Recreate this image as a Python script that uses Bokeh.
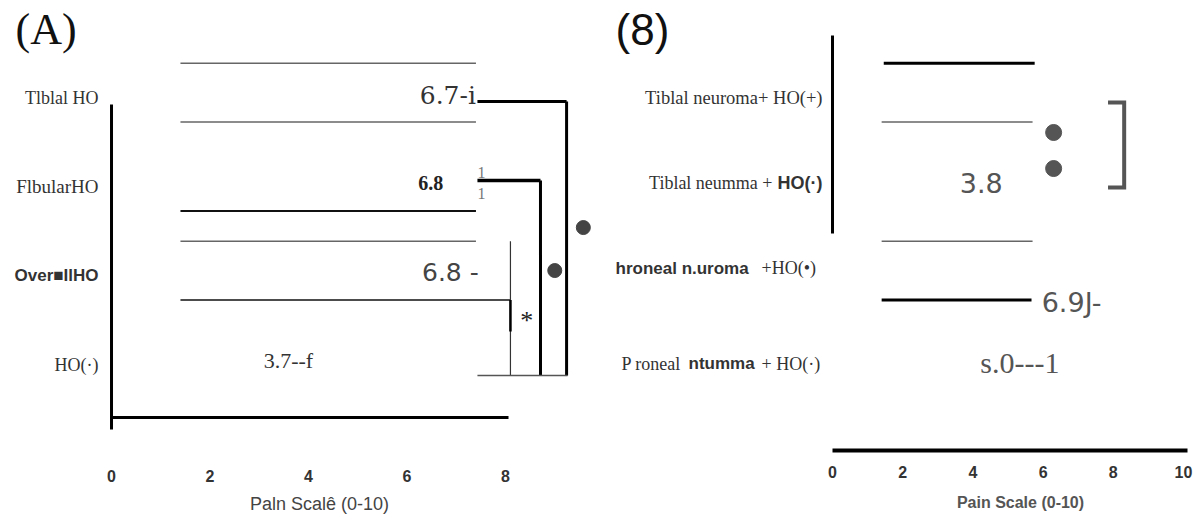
from bokeh.plotting import figure
from bokeh.models import ColumnDataSource, Range1d, FixedTicker
from bokeh.layouts import row
from bokeh.embed import file_html
from bokeh.resources import INLINE
from bokeh.core.properties import value, field

# ---------------- data ----------------
rows = [4, 3, 2, 1]                      # category rows, top to bottom

# panel (A)
a_categories = ["Tlblal HO", "FlbularHO", "Over\u25a0IlHO", "HO(\u00b7)"]
a_values = [6.7, 6.8, 6.8, 3.7]
a_value_text = ["6.7-i", "6.8", "6.8 -", "3.7--f"]
a_ticks = [0, 2, 4, 6, 8]
a_axis_title = "Paln Scal\u00ea (0-10)"
a_bar_start = 1.4
a_edge_cat = [0, 0, 1, 2, 2]            # which category each bar edge belongs to
a_edge_side = [1, -1, -1, 1, -1]         # top (+1) / bottom (-1) edge
a_edge_end = [7.4, 7.4, 7.4, 7.4, 8.1]

# panel (B)
b_categories = ["Tiblal neuroma+ HO(+)", "Tiblal neumma + HO(\u00b7)",
                "hroneal n.uroma +HO(\u2022)", "P roneal ntumma + HO(\u00b7)"]
b_values = [3.8, 6.9, 5.0]
b_value_text = ["3.8", "6.9J-", "s.0---1"]
b_ticks = [0, 2, 4, 6, 8, 10]
b_axis_title = "Pain Scale (0-10)"
b_edge_cat = [0, 0, 2, 2]
b_edge_side = [1, -1, 1, -1]
b_edge_start = [1.46, 1.4, 1.4, 1.4]
b_edge_end = [5.76, 5.7, 5.7, 5.67]

HALF = 0.33
SHIFT = 0.055
Y_RANGE = (-0.730, 5.090)


def base_fig(width, x_range, axis_y, ticks, bounds, lw, standoff):
    p = figure(width=width, height=518, x_range=Range1d(*x_range),
               y_range=Range1d(*Y_RANGE), output_backend="svg",
               toolbar_location=None, y_axis_location=None,
               min_border_left=0, min_border_right=0,
               min_border_top=0, min_border_bottom=0)
    p.grid.visible = False
    p.outline_line_color = None
    p.background_fill_color = "white"
    p.border_fill_color = "white"
    ax = p.xaxis[0]
    ax.fixed_location = axis_y
    ax.ticker = FixedTicker(ticks=ticks)
    ax.bounds = bounds
    ax.axis_line_width = lw
    ax.axis_line_color = "black"
    ax.major_tick_line_color = None
    ax.minor_tick_line_color = None
    ax.major_tick_out = 0
    ax.major_tick_in = 0
    ax.major_label_standoff = standoff
    ax.major_label_text_font = "Liberation Sans"
    ax.major_label_text_font_style = "bold"
    ax.major_label_text_font_size = "16px"
    ax.major_label_text_color = "#333333"
    return p


# ================= panel (A) =================
pa = base_fig(598, (-2.254, 9.888), 0.4045, a_ticks, (0, 8.07), 3, 52)

# vertical axis line
pa.segment(x0=[0], y0=[3.921], x1=[0], y1=[0.27], line_width=3, line_color="black")

# bar edges
ey = [rows[c] + s * HALF + SHIFT for c, s in zip(a_edge_cat, a_edge_side)]
pa.segment(x0=[a_bar_start] * len(ey), y0=ey, x1=a_edge_end, y1=ey,
           line_width=[1.5, 1.5, 2.2, 1.5, 1.5],
           line_color=["#666666", "#666666", "#111111", "#666666", "#111111"])

# comparison brackets
bx0 = [7.43, 9.24, 7.43, 8.71, 8.10, 8.10, 7.43]
by0 = [3.955, 3.955, 3.067, 3.067, 2.385, 1.725, 0.876]
bx1 = [9.24, 9.24, 8.71, 8.71, 8.10, 8.10, 9.26]
by1 = [3.955, 0.876, 3.067, 0.876, 0.876, 1.371, 0.876]
pa.segment(x0=bx0, y0=by0, x1=bx1, y1=by1,
           line_width=[3, 3, 3.5, 3, 1.2, 2.5, 1.5],
           line_color=["#000", "#000", "#000", "#000", "#333", "#000", "#555"])

pa.scatter(x=[9.58, 9.0], y=[2.539, 2.056], size=14, color="#444444")
pa.text(x=[8.43], y=[1.50], text=["*"], text_font=value("Liberation Serif"),
        text_font_size="26px", text_align="center", text_baseline="middle", text_color="#222")
pa.text(x=[7.51, 7.51], y=[3.157, 2.921], text=["1", "1"], text_font=value("Liberation Serif"),
        text_font_size="16px", text_align="center", text_baseline="middle", text_color="#777")

va = ColumnDataSource(dict(
    x=[7.40, 6.48, 6.88, 3.09], y=[4.022, 3.034, 2.034, 1.045], text=a_value_text,
    align=["right", "center", "center", "left"],
    font=["DejaVu Serif", "Liberation Serif", "DejaVu Sans", "Liberation Serif"],
    size=["25px", "20px", "25px", "22px"], style=["normal", "bold", "normal", "normal"],
    color=["#333333", "#222222", "#444444", "#333333"]))
pa.text(x="x", y="y", text="text", source=va, text_align=field("align"),
        text_font=field("font"), text_font_size=field("size"), text_font_style=field("style"),
        text_color=field("color"), text_baseline="middle")

ca = ColumnDataSource(dict(
    x=[0, 0, 0, 0], y=rows, text=a_categories,
    font=["Liberation Serif", "Liberation Serif", "Liberation Sans", "Liberation Serif"],
    size=["18px", "19px", "17px", "18px"], style=["normal", "normal", "bold", "normal"]))
pa.text(x="x", y="y", text="text", source=ca, x_offset=-13,
        text_font=field("font"), text_font_size=field("size"),
        text_font_style=field("style"), text_align="right",
        text_baseline="middle", text_color="#333333")

pa.text(x=[-1.949], y=[4.76], text=["(A)"], text_font=value("Liberation Serif"),
        text_font_size="44px", text_baseline="middle", text_color="#111111")
pa.text(x=[4.223], y=[-0.562], text=[a_axis_title], text_font=value("Liberation Sans"),
        text_font_size="18px", text_align="center", text_baseline="middle",
        text_color="#444444")

# ================= panel (B) =================
pb = base_fig(599, (-6.667, 10.399), 0.0337, b_ticks, (0, 10.12), 4, 15)

pb.segment(x0=[0], y0=[4.697], x1=[0], y1=[2.472], line_width=3, line_color="black")

eyb = [rows[c] + s * HALF + SHIFT for c, s in zip(b_edge_cat, b_edge_side)]
pb.segment(x0=b_edge_start, y0=eyb, x1=b_edge_end, y1=eyb,
           line_width=[3, 1.5, 1.5, 3],
           line_color=["#000000", "#666666", "#666666", "#000000"])

pb.line(x=[7.85, 8.31, 8.31, 7.85], y=[3.944, 3.944, 2.989, 2.989],
        line_width=4, line_color="#555555", line_join="miter")
pb.scatter(x=[6.30, 6.30], y=[3.607, 3.202], size=16, color="#555555")

vb = ColumnDataSource(dict(
    x=[4.24, 5.96, 4.21], y=[3.034, 1.697, 1.022], text=b_value_text,
    align=["center", "left", "left"],
    font=["DejaVu Sans", "DejaVu Sans", "Liberation Serif"],
    size=["27px", "27px", "30px"]))
pb.text(x="x", y="y", text="text", source=vb, text_align=field("align"),
        text_font=field("font"), text_font_size=field("size"),
        text_color="#555555", text_baseline="middle")

cb = ColumnDataSource(dict(
    x=[0] * 8,
    y=[4.0, 3.034, 3.034, 2.079, 2.079, 1.011, 1.011, 1.011],
    text=["Tiblal neuroma+ HO(+)", "Tiblal neumma +", "HO(\u00b7)",
          "hroneal n.uroma", "+HO(\u2022)", "P roneal", "ntumma", "+ HO(\u00b7)"],
    xo=[-10, -60, -10, -217, -71, -211, -144, -71],
    align=["right", "right", "right", "left", "left", "left", "left", "left"],
    font=["Liberation Serif", "Liberation Serif", "Liberation Sans", "Liberation Sans",
          "Liberation Serif", "Liberation Serif", "Liberation Sans", "Liberation Serif"],
    size=["18.5px", "18px", "18px", "17px", "18px", "18px", "17px", "18px"],
    style=["normal", "normal", "bold", "bold", "normal", "normal", "bold", "normal"]))
pb.text(x="x", y="y", text="text", source=cb, x_offset=field("xo"),
        text_font=field("font"), text_font_size=field("size"),
        text_font_style=field("style"), text_align=field("align"),
        text_baseline="middle", text_color="#333333")

pb.text(x=[-6.182], y=[4.76], text=["(8)"], text_font=value("Liberation Sans"),
        text_font_size="44px", text_baseline="middle", text_color="#111111")
pb.text(x=[5.356], y=[-0.551], text=[b_axis_title], text_font=value("Liberation Sans"),
        text_font_size="16px", text_font_style="bold", text_align="center",
        text_baseline="middle", text_color="#555555")

layout = row(pa, pb)
open("out.html", "w").write(file_html(layout, INLINE))
